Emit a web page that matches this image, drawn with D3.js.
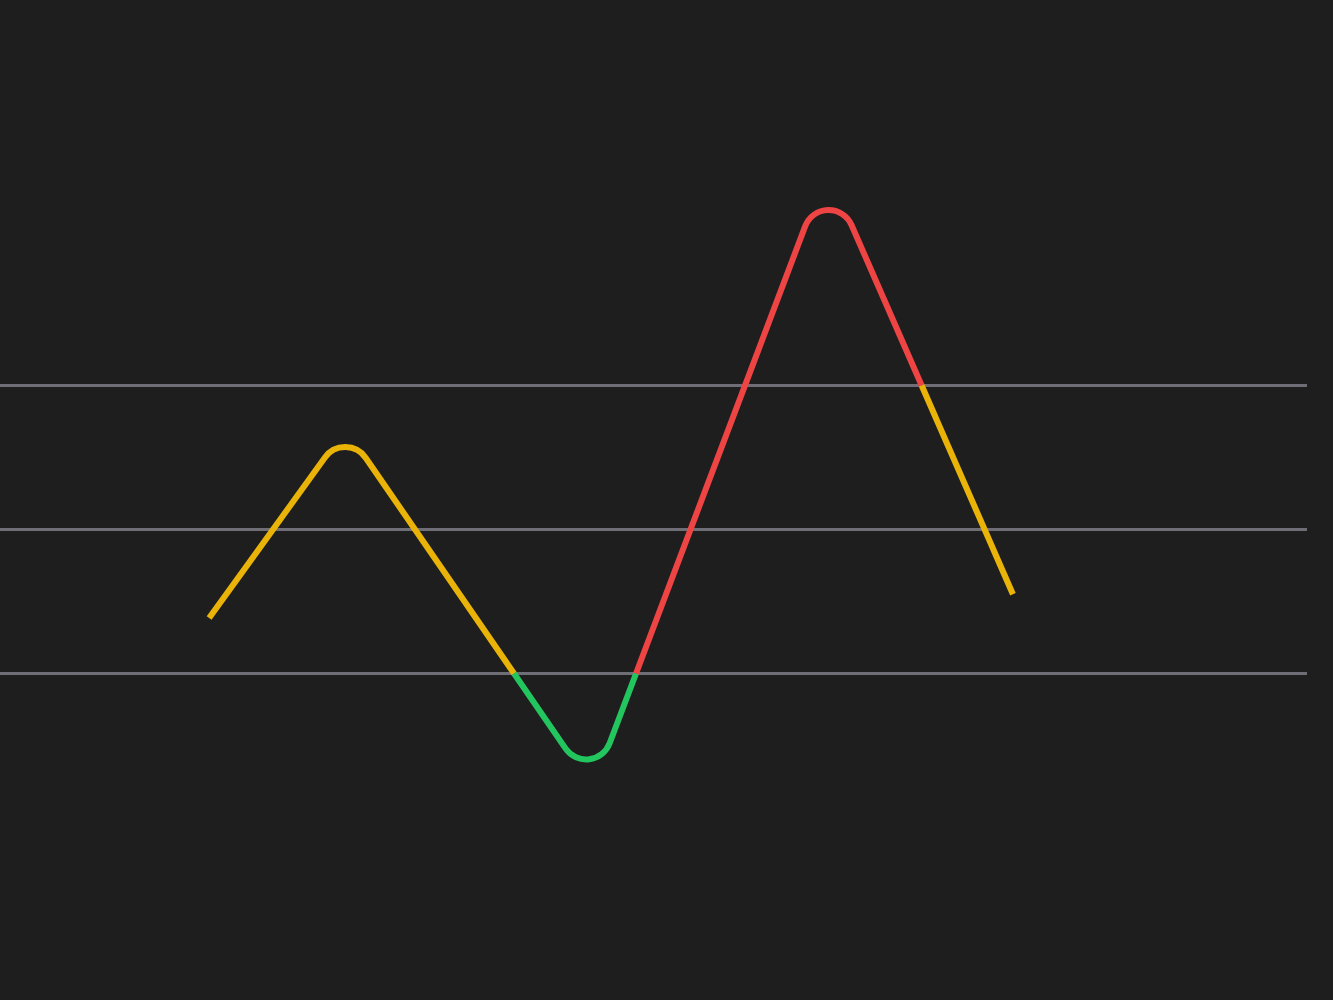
<!DOCTYPE html>
<html>
<head>
<meta charset="utf-8">
<script src="https://cdn.jsdelivr.net/npm/d3@7"></script>
<style>
  html, body { margin: 0; padding: 0; background: #1e1e1e; }
  svg { display: block; }
</style>
</head>
<body>
<svg id="chart" width="1333" height="1000"></svg>
<script>
// Data
const xValues = [16.0, 26.45, 45.35, 63.27, 77.5];
const yValues = [37.7, 64.0, 14.1, 100.1, 41.0];
const thresholds = [30, 50, 70];
const zoneColors = { low: "#22c55e", mid: "#eab308", high: "#ef4444" };

const W = 1333, H = 1000;
const svg = d3.select("#chart");
svg.append("rect").attr("width", W).attr("height", H).attr("fill", "#1e1e1e");

const x = d3.scaleLinear().domain([0, 100]).range([0, 1307]);
const y = d3.scaleLinear().domain([0, 100]).range([889.5, 169.5]);

// gridlines
svg.append("g").selectAll("line").data(thresholds).join("line")
  .attr("x1", x(0)).attr("x2", x(100))
  .attr("y1", d => y(d)).attr("y2", d => y(d))
  .attr("stroke", "#6f6e76").attr("stroke-width", 3);

const lowT = thresholds[0], highT = thresholds[2];
function zone(v) { return v < lowT ? "low" : (v > highT ? "high" : "mid"); }

// build polyline with break points where a segment leaves its start zone
const seq = []; // {p:[x,y], zone, brk}
for (let i = 0; i < xValues.length; i++) {
  const z = zone(yValues[i]);
  seq.push({ p: [x(xValues[i]), y(yValues[i])], zone: z, brk: false });
  if (i < xValues.length - 1) {
    const z2 = zone(yValues[i + 1]);
    if (z2 !== z) {
      const a = yValues[i], b = yValues[i + 1];
      let t;
      if (z === "low") t = lowT;
      else if (z === "high") t = highT;
      else t = b < a ? lowT : highT;
      const f = (t - a) / (b - a);
      const xv = xValues[i] + f * (xValues[i + 1] - xValues[i]);
      seq.push({ p: [x(xv), y(t)], zone: null, brk: true });
    }
  }
}

// split into pieces at break points
const pieces = [];
let cur = [seq[0]];
for (let k = 1; k < seq.length; k++) {
  cur.push(seq[k]);
  if (seq[k].brk) { pieces.push(cur); cur = [seq[k]]; }
}
pieces.push(cur);

const radius = 25;
function roundedPath(p, r) {
  const path = d3.path();
  path.moveTo(p[0][0], p[0][1]);
  for (let i = 1; i < p.length - 1; i++) {
    path.arcTo(p[i][0], p[i][1], p[i + 1][0], p[i + 1][1], r);
  }
  path.lineTo(p[p.length - 1][0], p[p.length - 1][1]);
  return path.toString();
}

svg.append("g").selectAll("path").data(pieces).join("path")
  .attr("d", pc => roundedPath(pc.map(s => s.p), radius))
  .attr("fill", "none")
  .attr("stroke", pc => zoneColors[pc.find(s => !s.brk).zone])
  .attr("stroke-width", 6)
  .attr("stroke-linecap", "butt")
  .attr("stroke-linejoin", "round");
</script>
</body>
</html>
